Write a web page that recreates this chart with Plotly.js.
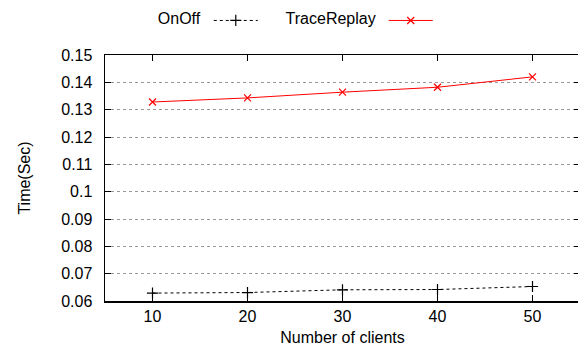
<!DOCTYPE html>
<html>
<head>
<meta charset="utf-8">
<script src="https://cdn.plot.ly/plotly-3.0.1.min.js"></script>
<style>html,body{margin:0;padding:0;overflow:hidden;background:#fff;}</style>
</head>
<body>
<div id="chart"></div>
<script>
const clients = [10, 20, 30, 40, 50];
const onOff = [0.0629, 0.0631, 0.0641, 0.0642, 0.0653];
const traceReplay = [0.1328, 0.1343, 0.1364, 0.1382, 0.1420];
const yTickVals = [0.06, 0.07, 0.08, 0.09, 0.10, 0.11, 0.12, 0.13, 0.14, 0.15];
const yTickText = ['0.06', '0.07', '0.08', '0.09', '0.1', '0.11', '0.12', '0.13', '0.14', '0.15'];
const xTickVals = [10, 20, 30, 40, 50];

const FONT = 'Liberation Sans, Arial, sans-serif';
const FS = 16;

const traces = [
  {
    x: clients, y: onOff, name: '', type: 'scatter', mode: 'lines+markers',
    line: {color: '#000', width: 1, dash: 'dot'},
    marker: {symbol: 'cross-thin', size: 8, color: '#000', line: {color: '#000', width: 1.2}},
    legend: 'legend'
  },
  {
    x: clients, y: traceReplay, name: '', type: 'scatter', mode: 'lines+markers',
    line: {color: '#ff0000', width: 1},
    marker: {symbol: 'x-thin', size: 7, color: '#ff0000', line: {color: '#ff0000', width: 1.2}},
    legend: 'legend2'
  }
];

const legendBase = {
  orientation: 'h', xanchor: 'left', yanchor: 'middle', y: 1.14,
  bgcolor: 'rgba(0,0,0,0)', itemwidth: 44,
  font: {family: FONT, size: FS, color: '#000'}
};

const layout = {
  width: 584, height: 346,
  margin: {l: 105, r: 4, t: 50, b: 45},
  paper_bgcolor: '#fff', plot_bgcolor: '#fff',
  font: {family: FONT, size: FS, color: '#000'},
  showlegend: true,
  legend: Object.assign({}, legendBase, {x: 0.107, title: {text: 'OnOff', side: 'left', font: {family: FONT, size: FS}}}),
  legend2: Object.assign({}, legendBase, {x: 0.376, title: {text: 'TraceReplay', side: 'left', font: {family: FONT, size: FS}}}),
  xaxis: {
    range: [5, 55], tickvals: xTickVals, ticks: 'inside', ticklen: 6, tickcolor: '#000',
    showline: true, linecolor: '#000', linewidth: 1.5, mirror: 'ticks',
    showgrid: false, zeroline: false,
    tickfont: {family: FONT, size: FS},
    title: {text: 'Number of clients', font: {family: FONT, size: FS}, standoff: 16}
  },
  yaxis: {
    range: [0.06, 0.15], tickvals: yTickVals, ticktext: yTickText,
    ticks: 'inside', ticklen: 6, tickcolor: '#000', ticklabelstandoff: 8,
    showline: true, linecolor: '#000', linewidth: 1.5, mirror: 'ticks',
    showgrid: true, gridcolor: '#999', griddash: 'dot', gridwidth: 1, zeroline: false,
    tickfont: {family: FONT, size: FS},
    title: {text: 'Time(Sec)', font: {family: FONT, size: FS}, standoff: 26}
  }
};

Plotly.newPlot('chart', traces, layout, {displayModeBar: false, staticPlot: true});
</script>
</body>
</html>
